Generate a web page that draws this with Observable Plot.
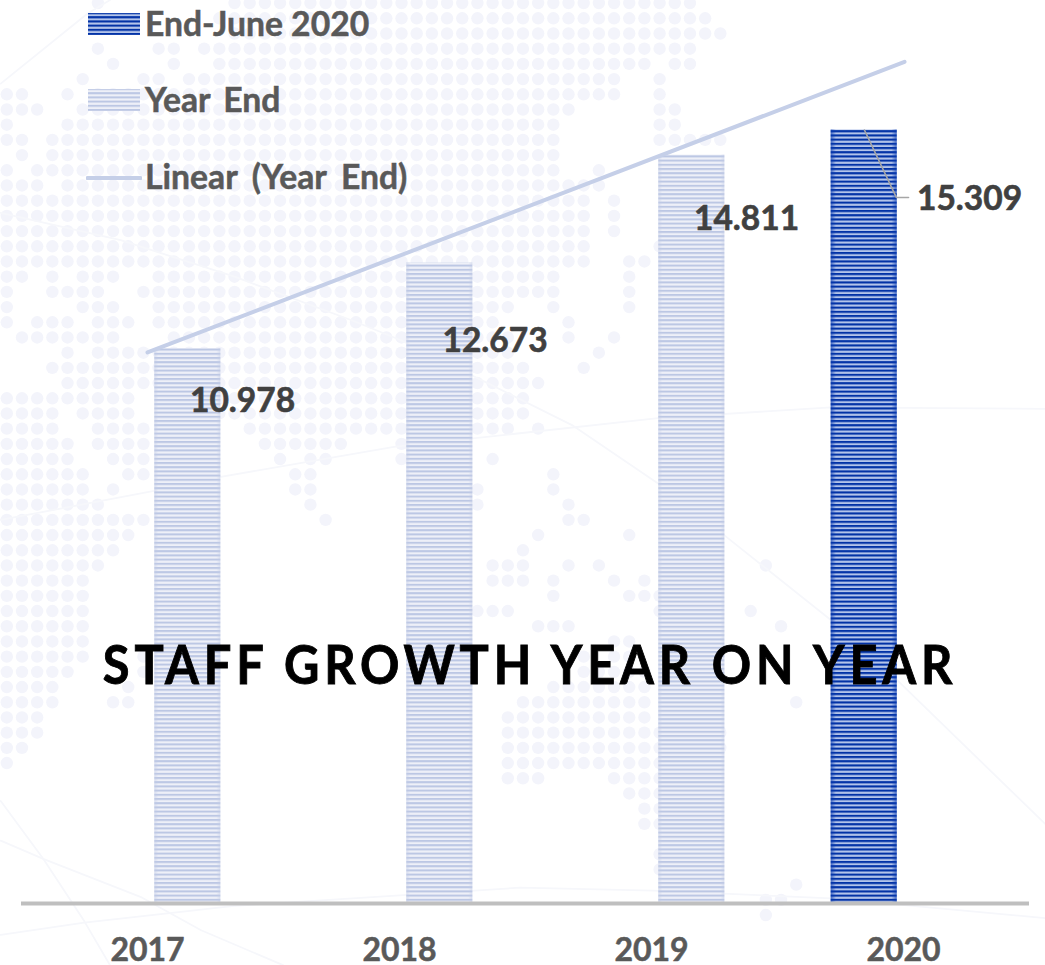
<!DOCTYPE html>
<html>
<head>
<meta charset="utf-8">
<script src="https://cdn.jsdelivr.net/npm/d3@7"></script>
<script src="https://cdn.jsdelivr.net/npm/@observablehq/plot@0.6"></script>
<style>
  html, body { margin: 0; padding: 0; background: #fff; }
  #stage { position: relative; width: 1045px; height: 965px; overflow: hidden; font-family: Lato, sans-serif; }
  #stage > svg, #bg svg, #fg svg { position: absolute; left: 0; top: 0; }
  #title { position: absolute; left: 0; width: 1060px; top: 631px; text-align: center; font-size: 53px; font-weight: 700; letter-spacing: 5.25px; color: #000; line-height: 66px; white-space: nowrap; -webkit-text-stroke: .9px #000; transform: scaleX(.92); transform-origin: 530px 50%; }
  .lg { position: absolute; left: 86px; font-size: 33.7px; font-weight: 700; color: #595959; line-height: 36px; white-space: nowrap; display: flex; align-items: center; -webkit-text-stroke: .5px #595959; }
  .lg svg { display: block; width: 56px; height: 24px; margin-right: 3px; margin-top: 2px; }
</style>
</head>
<body>
<div id="stage">
  <div id="bg"></div>
  <div id="fg"></div>
  <div id="title">STAFF GROWTH YEAR ON YEAR</div>
  <div class="lg" style="top:5px"><svg viewBox="0 0 56 24"><rect x="2" y="1" width="52" height="22" fill="url(#stripeBlue)"/></svg>End-June 2020</div>
  <div class="lg" style="top:81px;word-spacing:5px"><svg viewBox="0 0 56 24"><rect x="2" y="1" width="52" height="22" fill="url(#stripePale)"/></svg>Year End</div>
  <div class="lg" style="top:158px;word-spacing:6.5px"><svg viewBox="0 0 56 24"><line x1="1.5" y1="13" x2="54.5" y2="13" stroke="#c5cfe8" stroke-width="4" stroke-linecap="round"/></svg>Linear (Year End)</div>
</div>
<script>
// ---- chart data ----
const years = [2017, 2018, 2019, 2020];
const yearEndYears = [2017, 2018, 2019];
const yearEndValues = [10.978, 12.673, 14.811];
const juneYears = [2020];
const juneValues = [15.309];
const trendYears = [2017, 2020.004];
const trendValues = [10.90, 16.66];
const labelTexts = ["10.978", "12.673", "14.811", "15.309"];
const labelYears = [2017.377, 2018.379, 2019.377, 2020.262];
const labelValues = [9.928, 11.120, 13.535, 13.932];
const leaderYears = [2019.845, 2019.972, 2020.02];
const leaderValues = [15.309, 13.97, 13.97];

// ---- faint dotted world map behind the chart: occupied columns in each grid row ----
const mapRows = [
"6,15-45","14-46","15-47","6,10,11,13-45","7,11,14-42,44,45","5,9,10,12-40,43","0,1,4,6-40,43","0-2,5-37,43,44",
"0,4-36,43,44","0,1,3-36,43-47","1,3-36","0,2-36,39","0-2,4-39","0-38,40","0-38,40","0-38,40",
"0-38,43","0-38,41,42","0,1,3,5-7,10-36,41","0,3-6,9-36,41","0,5-7,10-33,36,41","0,2-4,6-8,10-32,37","1-7,11-33,37,40","4,6-33,39",
"3-34,38","4-35","0-8,13-34","0-3,5-8,13-34","0-3,6-9,16-33,35","0-4,6-9,17-22,26","0-4,7-9,18,20,21,26,32","0-5,8,9,19,20,36",
"0-5,7,19,20,31,36","0-6,20,31,37","0-9,21,37,38","0-8,35,41","0-7,34","0-6,32-34,37,39,50","0-5,32-34,36,40,42","0-5,36,41-43",
"0-5,31-33,43,49","0-5,35-37,51","0-5,40,41","0-5,9,38,40,41","0-4,9,38-42","0-3,8,36-42","0-3,7,8,34-42,52","0-2,33-42",
"0-2,33-43,47","0,1,33-43,47","0,33-43","33-35,40-43","41-43","42,43","42,43","",
"43","43","52","50,51","50"
];
const mapDots = mapRows.flatMap((row, r) => row === "" ? [] : row.split(",").flatMap(part => {
  const [a, b = a] = part.split("-").map(Number);
  return d3.range(a, b + 1).map(k => ({k, r}));
}));
const faintLines = [
  {id: "A", xs: [-0.4,7.5,15,22.8,26,37.3,42.9,47.5,54.3,58.7,68.4], ys: [13.8,15.6,18,20.9,22.2,27.8,31.6,35.2,40.6,44.6,54]},
  {id: "B", xs: [-0.4,9.7,13.9,25.5,33.8,42.9,54.3,68.4], ys: [34,32.1,31.2,29.2,28.3,27.3,26.6,26.7]},
  {id: "C", xs: [-0.4,5.3,6.8], ys: [5.3,0.7,-0.2]},
  {id: "D", xs: [-0.4,2.4,5.1,6.8], ys: [52.5,56.3,60.4,63.3]},
  {id: "E", xs: [-0.4,2.4,8.8,12.8,18.2], ys: [55.1,56.3,58.8,61,63.3]},
  {id: "F", xs: [-0.4,5.1,15,33.8,42.6,54.3,68.4], ys: [61.3,60.5,59.4,58.2,58.4,58.9,60.2]}
];
const faintPoints = faintLines.flatMap(l => l.xs.map((x, i) => ({id: l.id, x, y: l.ys[i]})));

const W = 1045, H = 965;

// background layer: grid units through linear scales
const bg = Plot.plot({
  width: W, height: H, margin: 0,
  x: {domain: [-0.415, 68.42], axis: null},
  y: {domain: [63.32, -0.171], axis: null},
  style: {background: "transparent"},
  marks: [
    Plot.dot(mapDots, {x: "k", y: "r", r: 6.2, fill: "#f3f4fb", stroke: "none"}),
    Plot.line(faintPoints, {x: "x", y: "y", z: "id", stroke: "#f6f7fb", strokeWidth: 1.8, curve: "linear"})
  ]
});
document.getElementById("bg").append(bg);

const defs = () => d3.create("svg:defs").html(`
  <pattern id="stripePale" patternUnits="userSpaceOnUse" width="8" height="4.2">
    <rect width="8" height="4.2" fill="#eef0f8"/><rect y="0" width="8" height="2" fill="#bcc7e4"/>
  </pattern>
  <pattern id="stripeBlue" patternUnits="userSpaceOnUse" width="8" height="4.2">
    <rect width="8" height="4.2" fill="#b3c4ea"/><rect y="0" width="8" height="2.1" fill="#0232a6"/>
  </pattern>
  <linearGradient id="edgeBlue" x1="0" x2="1" y1="0" y2="0">
    <stop offset="0" stop-color="#0a3bb0" stop-opacity=".65"/><stop offset=".08" stop-color="#0a3bb0" stop-opacity="0"/>
    <stop offset=".92" stop-color="#0a3bb0" stop-opacity="0"/><stop offset="1" stop-color="#0a3bb0" stop-opacity=".65"/>
  </linearGradient>
  <linearGradient id="edgePale" x1="0" x2="1" y1="0" y2="0">
    <stop offset="0" stop-color="#c3cce6" stop-opacity=".5"/><stop offset=".06" stop-color="#c3cce6" stop-opacity="0"/>
    <stop offset=".94" stop-color="#c3cce6" stop-opacity="0"/><stop offset="1" stop-color="#c3cce6" stop-opacity=".5"/>
  </linearGradient>`).node();

const paleOffset = 0.16, blueOffset = -0.156, barW = 0.262;
const paleRows = yearEndYears.map((year, i) => ({year, value: yearEndValues[i]}));
const blueRows = juneYears.map((year, i) => ({year, value: juneValues[i]}));
const barMark = (rows, offset, fill) => Plot.rectY(rows, {
  x1: d => d.year + offset - barW / 2,
  x2: d => d.year + offset + barW / 2,
  y: "value", fill
});

const chart = Plot.plot({
  width: W, height: H,
  marginTop: 0, marginBottom: 63, marginLeft: 21, marginRight: 16,
  x: {domain: [2016.5, 2020.5], axis: null},
  y: {domain: [0, 17.875], axis: null},
  style: {background: "transparent", fontFamily: "Lato, sans-serif"},
  marks: [
    defs,
    barMark(paleRows, paleOffset, "url(#stripePale)"),
    barMark(paleRows, paleOffset, "url(#edgePale)"),
    barMark(blueRows, blueOffset, "url(#stripeBlue)"),
    barMark(blueRows, blueOffset, "url(#edgeBlue)"),
    Plot.ruleY([0], {stroke: "#bfbfbf", strokeWidth: 4, dy: 1}),
    Plot.line(trendYears.map((x, i) => ({x, y: trendValues[i]})), {x: "x", y: "y", stroke: "#c5cfe8", strokeWidth: 4, strokeLinecap: "round"}),
    Plot.line(leaderYears.map((x, i) => ({x, y: leaderValues[i]})), {x: "x", y: "y", stroke: "#a6a6a6", strokeWidth: 1.6}),
    Plot.text(labelTexts.map((t, i) => ({t, x: labelYears[i], y: labelValues[i]})), {
      x: "x", y: "y", text: "t", fontSize: 33.5, fontWeight: 700, fill: "#404040", stroke: "#404040", strokeWidth: 0.6, textAnchor: "middle", lineAnchor: "middle"
    }),
    Plot.axisX({ticks: years, tickFormat: "d", tickSize: 0, tickPadding: 36, fontSize: 32, fontWeight: 700, fill: "#595959", textStroke: "#595959", textStrokeWidth: 0.5, label: null})
  ]
});
document.getElementById("fg").append(chart);
</script>
</body>
</html>
